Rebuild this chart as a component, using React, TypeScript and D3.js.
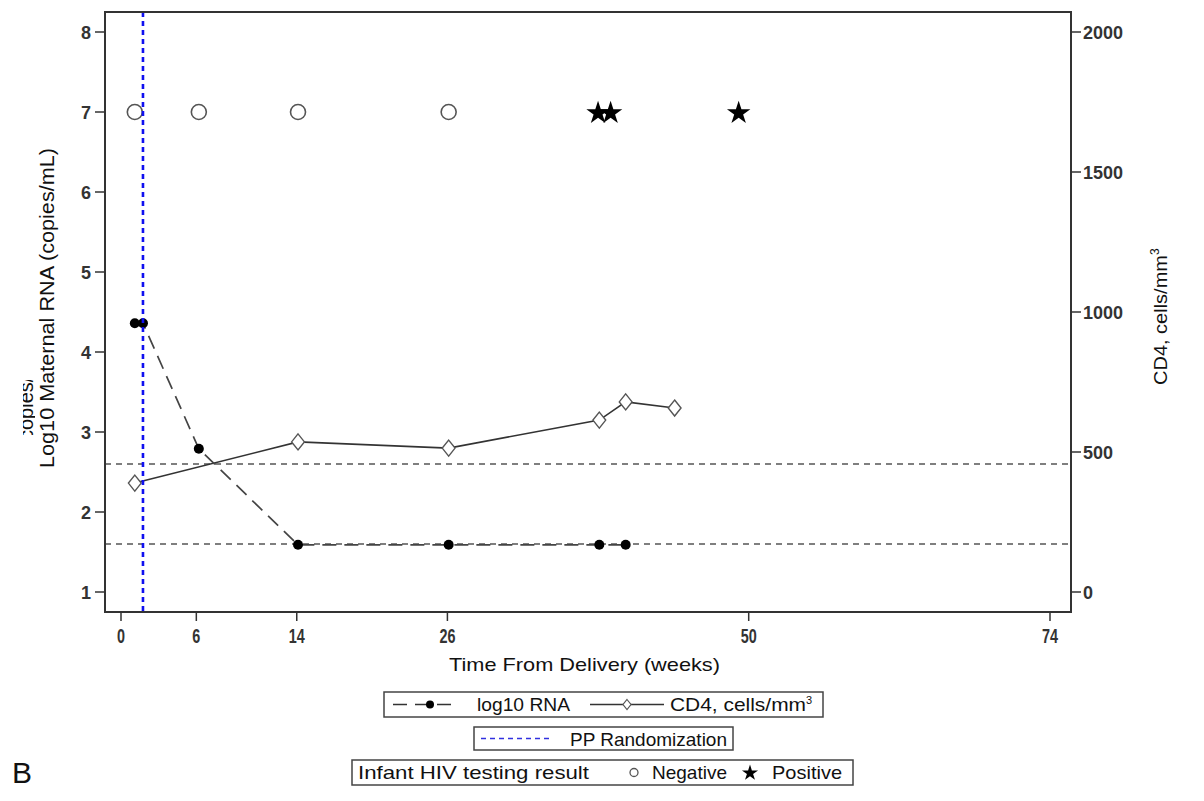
import React from "react";
import * as d3 from "d3";

// weeks from delivery
const rnaWeeks = [1.1, 1.75, 6.2, 14.1, 26.1, 38.1, 40.2];
const rnaValues = [4.36, 4.36, 2.79, 1.59, 1.59, 1.59, 1.59];

const cd4Weeks = [1.1, 14.1, 26.1, 38.1, 40.2, 44.1];
const cd4Values = [389, 536, 514, 614, 679, 657];

const negWeeks = [1.1, 6.2, 14.1, 26.1];
const posWeeks = [38.0, 39.0, 49.2];
const infantLevel = 7;

const randomizationWeek = 1.75;
const refLevels = [2.6, 1.6];

const xTicks = [0, 6, 14, 26, 50, 74];
const yTicks = [1, 2, 3, 4, 5, 6, 7, 8];
const y2Ticks = [0, 500, 1000, 1500, 2000];

const W = 1204;
const H = 801;
const left = 105;
const right = 1071;
const top = 12;
const bottom = 612;

const font = "'Liberation Sans', Arial, sans-serif";
const frameColor = "#333";

export default function App() {
  const x = d3.scaleLinear().domain([0, 74]).range([121, 1050]);
  const y = d3.scaleLinear().domain([1, 8]).range([592, 32]);
  const y2 = d3.scaleLinear().domain([0, 2000]).range([592, 32]);

  const rnaPts = rnaWeeks.map((w, i) => [w, rnaValues[i]] as [number, number]);
  const cd4Pts = cd4Weeks.map((w, i) => [w, cd4Values[i]] as [number, number]);

  const rnaLine = d3
    .line<[number, number]>()
    .x(d => x(d[0]))
    .y(d => y(d[1]));
  const cd4Line = d3
    .line<[number, number]>()
    .x(d => x(d[0]))
    .y(d => y2(d[1]));

  const star = d3.symbol().type(d3.symbolStar).size(170)();
  const diamond = (cx: number, cy: number, r: number) =>
    `M${cx},${cy - r}L${cx + r * 0.8},${cy}L${cx},${cy + r}L${cx - r * 0.8},${cy}Z`;

  const lg = { fontFamily: font, fontSize: 19, fill: "#111", lengthAdjust: "spacingAndGlyphs" as const };

  return (
    <svg
      width={W}
      height={H}
      style={{ position: "absolute", left: 0, top: 0, background: "#fff" }}
    >
      <defs>
        <clipPath id="plotClip">
          <rect x={left} y={top} width={right - left} height={bottom - top} />
        </clipPath>
        <clipPath id="ghostClip">
          <rect x={23} y={380} width={12} height={55} />
        </clipPath>
      </defs>
      <rect width={W} height={H} fill="#fff" />

      <g clipPath="url(#plotClip)">
        {/* reference levels */}
        {refLevels.map(v => (
          <line
            key={v}
            x1={left}
            x2={right}
            y1={y(v)}
            y2={y(v)}
            stroke="#555"
            strokeWidth={1.6}
            strokeDasharray="6,5"
          />
        ))}

        {/* CD4 */}
        <path d={cd4Line(cd4Pts) || ""} fill="none" stroke="#333" strokeWidth={1.6} />
        {cd4Pts.map((d, i) => (
          <path
            key={i}
            d={diamond(x(d[0]), y2(d[1]), 8)}
            fill="#fff"
            stroke="#555"
            strokeWidth={1.4}
          />
        ))}

        {/* RNA */}
        <path
          d={rnaLine(rnaPts) || ""}
          fill="none"
          stroke="#444"
          strokeWidth={1.7}
          strokeDasharray="14,8"
        />
        {rnaPts.map((d, i) => (
          <circle key={i} cx={x(d[0])} cy={y(d[1])} r={5} fill="#000" />
        ))}

        {/* infant testing */}
        {negWeeks.map((w, i) => (
          <circle
            key={i}
            cx={x(w)}
            cy={y(infantLevel)}
            r={7.5}
            fill="none"
            stroke="#555"
            strokeWidth={1.6}
          />
        ))}
        {posWeeks.map((w, i) => (
          <path
            key={i}
            d={star || ""}
            transform={`translate(${x(w)},${y(infantLevel) + 1})`}
            fill="#000"
          />
        ))}

        {/* PP randomization */}
        <line
          x1={x(randomizationWeek)}
          x2={x(randomizationWeek)}
          y1={top}
          y2={bottom}
          stroke="#1010f0"
          strokeWidth={2.6}
          strokeDasharray="5,4"
        />
      </g>

      {/* frame */}
      <rect
        x={left}
        y={top}
        width={right - left}
        height={bottom - top}
        fill="none"
        stroke={frameColor}
        strokeWidth={2}
      />

      {/* left axis */}
      {yTicks.map(t => (
        <g key={t}>
          <line x1={left - 10} x2={left} y1={y(t)} y2={y(t)} stroke={frameColor} strokeWidth={1.5} />
          <text
            x={left - 14}
            y={y(t) + 6.5}
            textAnchor="end"
            fontFamily={font}
            fontWeight="bold"
            fontSize={18}
            fill="#333"
          >
            {t}
          </text>
        </g>
      ))}

      {/* right axis */}
      {y2Ticks.map(t => (
        <g key={t}>
          <line x1={right} x2={right + 10} y1={y2(t)} y2={y2(t)} stroke={frameColor} strokeWidth={1.5} />
          <text
            x={right + 12}
            y={y2(t) + 6.5}
            fontFamily={font}
            fontWeight="bold"
            fontSize={18}
            fill="#333"
          >
            {t}
          </text>
        </g>
      ))}

      {/* bottom axis */}
      {xTicks.map(t => (
        <g key={t}>
          <line x1={x(t)} x2={x(t)} y1={bottom} y2={bottom + 9} stroke={frameColor} strokeWidth={1.5} />
          <text
            x={x(t)}
            y={bottom + 31}
            textAnchor="middle"
            fontFamily={font}
            fontWeight="bold"
            fontSize={20}
            fill="#333"
            transform={`translate(${x(t)},0) scale(0.72,1) translate(${-x(t)},0)`}
          >
            {t}
          </text>
        </g>
      ))}

      {/* axis titles */}
      <text
        x={449}
        y={671}
        fontFamily={font}
        fontSize={19}
        fill="#111"
        textLength={271}
        lengthAdjust="spacingAndGlyphs"
      >
        Time From Delivery (weeks)
      </text>
      <g clipPath="url(#ghostClip)">
        <text
          transform="translate(33,440) rotate(-90)"
          fontFamily={font}
          fontSize={20}
          fill="#111"
        >
          copies/mL)
        </text>
      </g>
      <text
        transform="translate(54,468) rotate(-90)"
        fontFamily={font}
        fontSize={20}
        fill="#111"
        textLength={320}
        lengthAdjust="spacingAndGlyphs"
      >
        Log10 Maternal RNA (copies/mL)
      </text>
      <text
        transform="translate(1167,385) rotate(-90)"
        fontFamily={font}
        fontSize={19}
        fill="#111"
      >
        <tspan textLength={130} lengthAdjust="spacingAndGlyphs">CD4, cells/mm</tspan>
        <tspan dy={-8} fontSize={12}>
          3
        </tspan>
      </text>

      {/* legend 1 */}
      <rect x={384} y={692} width={439} height={25} fill="#fff" stroke="#444" strokeWidth={1.5} />
      <line x1={393} x2={455} y1={704.5} y2={704.5} stroke="#333" strokeWidth={1.6} strokeDasharray="14,8" />
      <circle cx={430} cy={704.5} r={4} fill="#000" />
      <text x={477} y={711} {...lg} textLength={93}>
        log10 RNA
      </text>
      <line x1={590} x2={664} y1={704.5} y2={704.5} stroke="#333" strokeWidth={1.5} />
      <path d={diamond(627, 704.5, 5)} fill="#fff" stroke="#555" strokeWidth={1.2} />
      <text x={670} y={711} {...lg}>
        <tspan textLength={136} lengthAdjust="spacingAndGlyphs">CD4, cells/mm</tspan>
        <tspan dy={-7} fontSize={11}>
          3
        </tspan>
      </text>

      {/* legend 2 */}
      <rect x={474} y={727} width={259} height={23} fill="#fff" stroke="#444" strokeWidth={1.5} />
      <line x1={481} x2={551} y1={738.5} y2={738.5} stroke="#3030e0" strokeWidth={1.6} strokeDasharray="5,4" />
      <text x={570} y={745.5} {...lg} textLength={157}>
        PP Randomization
      </text>

      {/* legend 3 */}
      <rect x={352} y={760} width={501} height={25} fill="#fff" stroke="#444" strokeWidth={1.5} />
      <text x={358} y={779} {...lg} textLength={231}>
        Infant HIV testing result
      </text>
      <circle cx={634} cy={772.5} r={4} fill="none" stroke="#555" strokeWidth={1.3} />
      <text x={652} y={779} {...lg} textLength={75}>
        Negative
      </text>
      <path
        d={d3.symbol().type(d3.symbolStar).size(80)() || ""}
        transform="translate(750,773)"
        fill="#000"
      />
      <text x={772} y={779} {...lg} textLength={70}>
        Positive
      </text>

      {/* panel letter */}
      <text x={12} y={783} fontFamily={font} fontSize={30} fill="#111">
        B
      </text>
    </svg>
  );
}
